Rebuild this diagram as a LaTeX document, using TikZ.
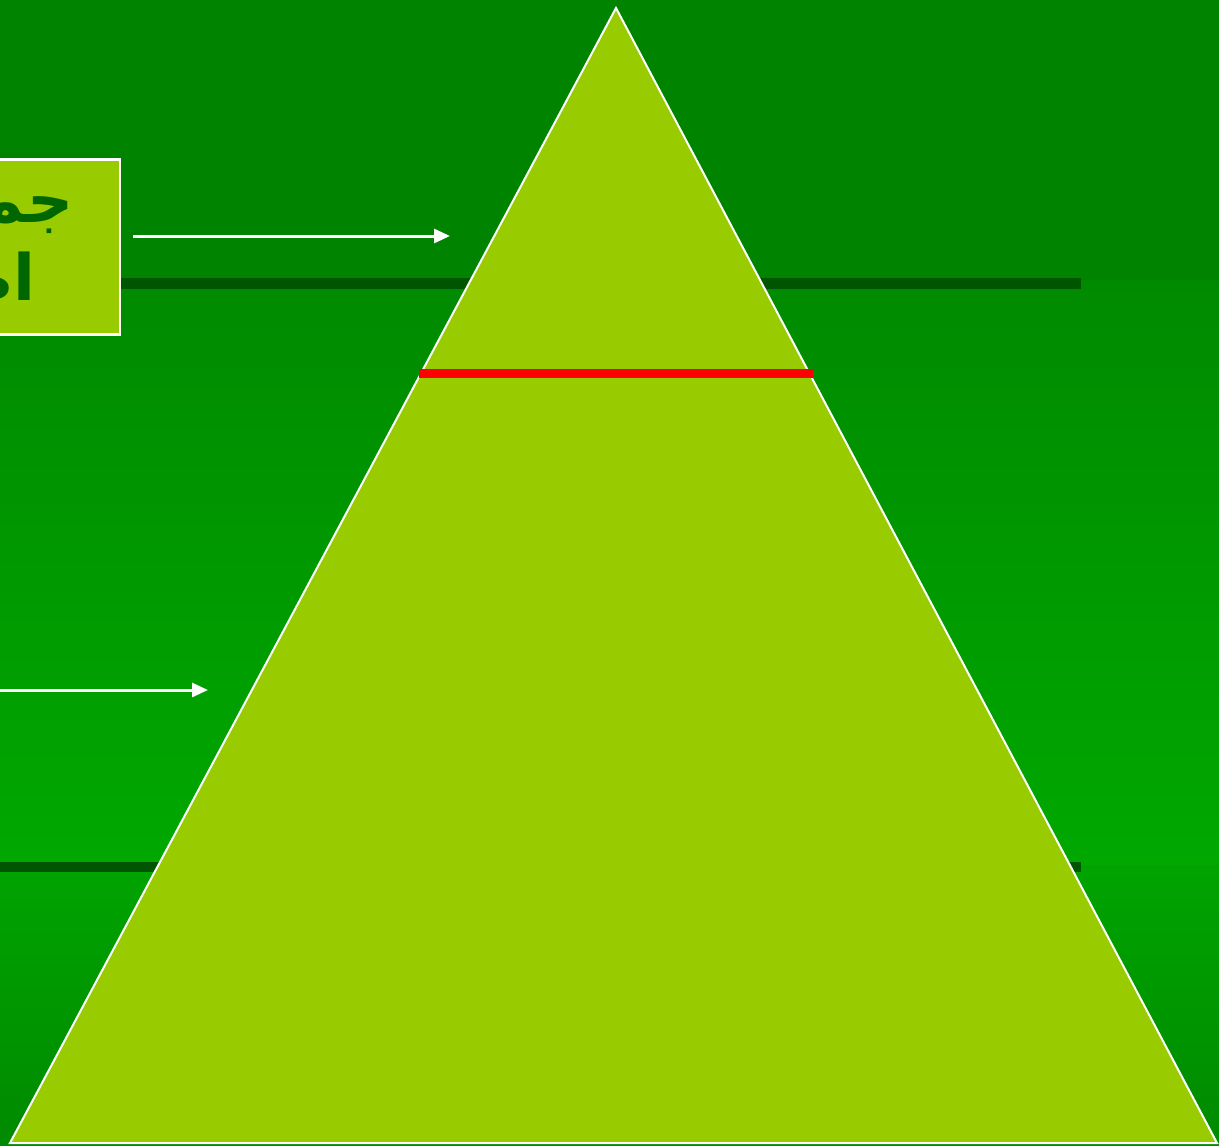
\documentclass[tikz,border=0pt]{standalone}
\usepackage{fontspec}
\newfontfamily\arabicfont[Script=Arabic]{DejaVu Sans}
\TeXXeTstate=1
\usetikzlibrary{arrows.meta}
\definecolor{bgtop}{HTML}{008400}
\definecolor{bgmid}{HTML}{008A00}
\definecolor{bglow}{HTML}{00A800}
\definecolor{barcol}{HTML}{005500}
\definecolor{leaf}{HTML}{99CC00}
\definecolor{inkgreen}{HTML}{006600}

\begin{document}
\begin{tikzpicture}[x=1pt,y=-1pt,
  wline/.style={draw=white, line width=2pt},
  warrow/.style={draw=white, fill=white, line width=3pt, -{Triangle[length=16pt,width=14pt]}},
  label/.style={font=\arabicfont\bfseries\fontsize{64}{72}\selectfont, text=inkgreen, inner sep=0pt, anchor=base east}]

\useasboundingbox (0,0) rectangle (1219,1146);
\clip (0,0) rectangle (1219,1146);

% background bands
\fill[bgtop] (0,0) rectangle (1219,280);
\shade[top color=bgmid, bottom color=bglow] (0,280) rectangle (1219,865);
\shade[top color=bglow!85!bgmid, bottom color=bgmid] (0,865) rectangle (1219,1146);
\fill[barcol] (0,278) rectangle (1081,289);
\fill[barcol] (0,862) rectangle (1081,872);

% pyramid
\coordinate (apex) at (616,8);
\coordinate (bl) at (10,1143);
\coordinate (br) at (1217,1143);
\filldraw[fill=leaf, wline] (apex) -- (br) -- (bl) -- cycle;
\draw[red, line width=9pt] (419,373) -- (813,373);

% text box
\node[draw=white, line width=2.5pt, fill=leaf, minimum width=190pt, minimum height=175pt, anchor=north east, inner sep=0pt] (box) at (121,158) {};
\node[label] (l1) at (74,222) {\beginR جملة\endR};
\node[label] (l2) at (36,300) {\beginR اصل\endR};

% arrows
\coordinate (t1) at (450,236);
\coordinate (s2) at (-5,690);
\coordinate (t2) at (208,690);
\draw[warrow] (box.east |- t1) ++(12,0) coordinate (s1) -- (t1);
\draw[warrow] (s2) -- (t2);

\end{tikzpicture}
\end{document}
